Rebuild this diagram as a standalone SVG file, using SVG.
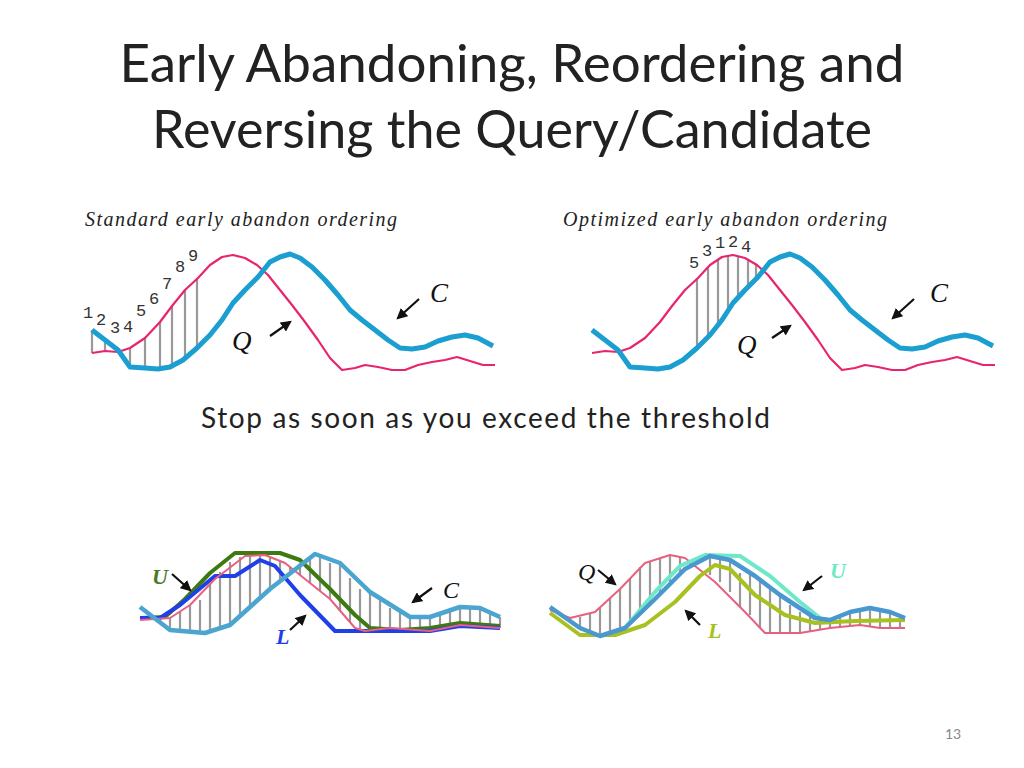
<svg xmlns="http://www.w3.org/2000/svg" width="1024" height="768" viewBox="0 0 1024 768">
<style>
.title{font-family:Lato,"Open Sans",sans-serif;font-size:52px;fill:#222;text-anchor:middle}
.cap{font-family:"Liberation Serif",serif;font-style:italic;font-size:20px;fill:#222}
.num{font-family:"Liberation Mono",monospace;font-size:17px;fill:#333}
.lab{font-family:"Liberation Serif",serif;font-style:italic;font-size:27px;fill:#111}
.blab{font-family:"Liberation Serif",serif;font-style:italic;font-weight:bold;font-size:22px}
.pink{fill:none;stroke:#e8246e;stroke-width:2.2;stroke-linejoin:round}
.blue{fill:none;stroke:#1a9fd0;stroke-width:5;stroke-linejoin:round}
.hatch{stroke:#999;stroke-width:2.2}
.arr{stroke:#111;stroke-width:2.2;marker-end:url(#ah)}
</style>
<defs><marker id="ah" viewBox="0 0 10 10" refX="8" refY="5" markerWidth="5" markerHeight="5" orient="auto"><path d="M0,0L10,5L0,10z" fill="#111"/></marker></defs>
<rect width="1024" height="768" fill="#fff"/>
<text class="title" x="512" y="82" textLength="785" lengthAdjust="spacingAndGlyphs">Early Abandoning, Reordering and</text>
<text class="title" x="512" y="148" textLength="720" lengthAdjust="spacingAndGlyphs">Reversing the Query/Candidate</text>
<text class="cap" x="85" y="226" textLength="312">Standard early abandon ordering</text>
<text class="cap" x="563" y="226" textLength="324">Optimized early abandon ordering</text>
<g id="plot1">
<path class="hatch" d="M92,330V353M105,340V351M118,350V352M130,348V367M145,338V368M160,322V369M172,306V367M185,290V360M197,278V348"/>
<polyline class="pink" points="92,353 105,351 118,352 130,348 145,338 160,322 172,306 185,290 198,278 210,265 222,257 233,255 245,258 257,265 268,275 280,290 292,305 305,322 318,340 330,358 342,370 355,368 365,365 378,367 392,370 405,370 418,365 432,362 445,360 457,357 470,361 483,365 495,365"/>
<polyline class="blue" points="92,330 105,340 118,350 130,367 145,368 158,369 170,367 183,360 197,348 210,335 222,320 233,303 245,290 258,277 270,262 280,257 290,254 300,258 312,267 325,280 338,295 350,310 362,320 375,330 388,340 400,348 412,349 425,347 438,341 452,337 465,335 478,338 493,346"/>
<text class="num" x="83" y="318">1</text><text class="num" x="96" y="325">2</text><text class="num" x="110" y="333">3</text><text class="num" x="123" y="332">4</text><text class="num" x="136" y="316">5</text><text class="num" x="149" y="304">6</text><text class="num" x="162" y="289">7</text><text class="num" x="175" y="272">8</text><text class="num" x="188" y="261">9</text>
<text class="lab" x="430" y="302">C</text><line class="arr" x1="419" y1="299" x2="398" y2="318"/>
<text class="lab" x="232" y="350">Q</text><line class="arr" x1="270" y1="336" x2="290" y2="322"/>
</g>
<g id="plot2">
<path class="hatch" d="M697,278V348M708,267V337M718,260V325M728,256V312M738,256V298M748,259V287M756,264V278"/>
<polyline class="pink" transform="translate(500,0)" points="92,353 105,351 118,352 130,348 145,338 160,322 172,306 185,290 198,278 210,265 222,257 233,255 245,258 257,265 268,275 280,290 292,305 305,322 318,340 330,358 342,370 355,368 365,365 378,367 392,370 405,370 418,365 432,362 445,360 457,357 470,361 483,365 495,365"/>
<polyline class="blue" transform="translate(500,0)" points="92,330 105,340 118,350 130,367 145,368 158,369 170,367 183,360 197,348 210,335 222,320 233,303 245,290 258,277 270,262 280,257 290,254 300,258 312,267 325,280 338,295 350,310 362,320 375,330 388,340 400,348 412,349 425,347 438,341 452,337 465,335 478,338 493,346"/>
<text class="num" x="689" y="268">5</text><text class="num" x="702" y="256">3</text><text class="num" x="715" y="248">1</text><text class="num" x="728" y="247">2</text><text class="num" x="741" y="252">4</text>
<text class="lab" x="930" y="302">C</text><line class="arr" x1="914" y1="299" x2="893" y2="318"/>
<text class="lab" x="737" y="354">Q</text><line class="arr" x1="772" y1="338" x2="790" y2="326"/>
</g>
<text x="201" y="428" font-family="Lato,'Open Sans',sans-serif" font-size="28" fill="#222" textLength="569">Stop as soon as you exceed the threshold</text>
<g id="plot3">
<path class="hatch" d="M150,616V619M160,619V623M170,618V630M180,612V632M190,605V633M200,600V633M210,584V630M220,572V628M230,562V625M240,557V616M250,556V607M260,555V598M270,557V589M280,561V580M290,567V571M300,563V575M310,556V583M320,556V591M330,563V599M340,563V611M350,578V622M360,589V630M370,592V631M380,600V630M390,608V628M400,613V629M410,617V630M420,617V631M430,617V631M440,613V629M450,610V627M460,607V625M470,607V627M480,608V628M490,612V628M500,617V628"/>
<polyline fill="none" stroke="#3d7a12" stroke-width="4" stroke-linejoin="round" points="140,618 165,617 185,599 210,573 235,553 280,553 300,560 330,589 355,615 370,628 400,630 430,628 460,623 500,626"/>
<polyline fill="none" stroke="#1f3fe8" stroke-width="4" stroke-linejoin="round" points="140,618 160,618 180,605 215,576 235,576 260,560 275,566 300,595 335,631 380,631 430,631 460,626 500,628"/>
<polyline fill="none" stroke="#e8607f" stroke-width="2" stroke-linejoin="round" points="140,620 170,618 190,605 215,579 245,556 265,555 285,563 330,599 355,628 365,631 390,628 430,631 460,625 500,628"/>
<polyline fill="none" stroke="#4aa6d0" stroke-width="4.5" stroke-linejoin="round" points="140,607 170,630 205,633 230,625 270,589 315,554 340,563 370,592 410,617 430,617 460,607 480,608 500,617"/>
<text class="blab" x="152" y="584" fill="#4a7a1a">U</text><line class="arr" x1="172" y1="574" x2="190" y2="590"/>
<text class="blab" x="276" y="644" fill="#1f3fe8">L</text><line class="arr" x1="290" y1="630" x2="305" y2="616"/>
<text class="lab" x="443" y="598" style="font-size:24px">C</text><line class="arr" x1="432" y1="588" x2="413" y2="602"/>
</g>
<g id="plot4">
<path class="hatch" d="M570,618V621M580,617V628M590,613V632M600,608V636M610,598V633M620,589V630M630,578V623M640,567V613M650,562V604M660,558V594M670,555V584M680,557V574M690,561V566M710,556V575M720,558V582M730,560V592M740,573V607M750,573V615M760,580V628M770,587V633M780,595V633M790,605V633M800,612V633M810,617V631M820,619V629M830,620V628M840,616V627M850,612V625M860,610V625M870,608V627M880,610V628M890,612V628M900,616V628"/>
<polyline fill="none" stroke="#e8607f" stroke-width="2" stroke-linejoin="round" points="550,610 570,618 595,612 620,589 645,563 670,555 685,558 715,582 745,612 765,633 800,633 830,628 860,625 880,628 905,628"/>
<polyline fill="none" stroke="#a8c020" stroke-width="4" stroke-linejoin="round" points="550,613 580,635 615,635 645,625 675,602 700,576 715,565 730,569 755,595 785,615 815,623 855,621 905,620"/>
<polyline fill="none" stroke="#6ee8c8" stroke-width="4" stroke-linejoin="round" points="625,628 655,592 680,566 705,555 740,556 770,576 800,602 820,618"/>
<polyline fill="none" stroke="#4a98d0" stroke-width="4.5" stroke-linejoin="round" points="550,607 580,628 600,636 625,628 655,599 685,569 710,556 730,560 755,576 780,595 815,618 830,620 850,612 870,608 890,612 905,618"/>
<text class="lab" x="578" y="580" style="font-size:24px">Q</text><line class="arr" x1="598" y1="570" x2="615" y2="584"/>
<text class="blab" x="830" y="578" fill="#6ee8c8">U</text><line class="arr" x1="822" y1="576" x2="804" y2="590"/>
<text class="blab" x="708" y="638" fill="#a8c020">L</text><line class="arr" x1="700" y1="625" x2="686" y2="611"/>
</g>
<text x="945" y="739" font-family="Lato,sans-serif" font-size="14" fill="#888">13</text>
</svg>
